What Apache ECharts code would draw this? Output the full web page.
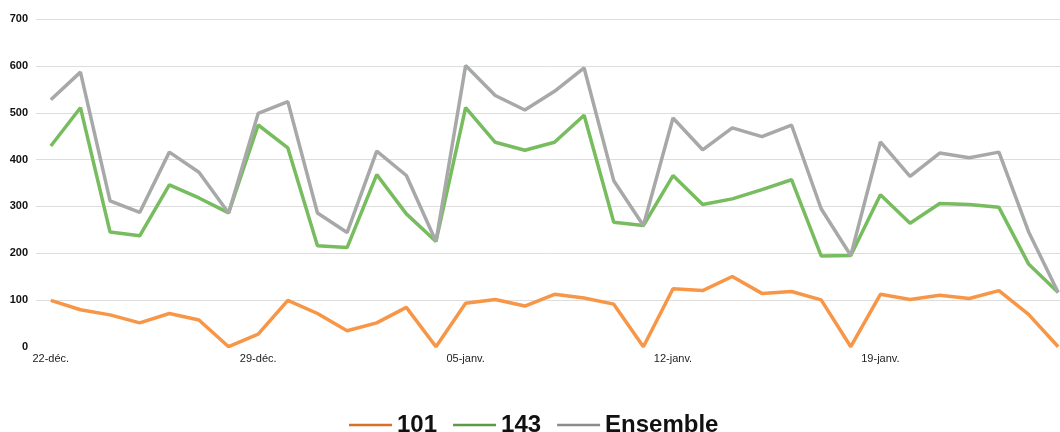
<!DOCTYPE html>
<html>
<head>
<meta charset="utf-8">
<script src="https://cdn.jsdelivr.net/npm/echarts@6/dist/echarts.min.js"></script>
<style>
  html, body { margin: 0; padding: 0; background: #fff; }
  #chart { width: 1060px; height: 432px; }
</style>
</head>
<body>
<div id="chart"></div>
<script>
// jours du 22-déc. au 25-janv.
var jours = [
    '22-déc.', '23-déc.', '24-déc.', '25-déc.', '26-déc.', '27-déc.', '28-déc.',
    '29-déc.', '30-déc.', '31-déc.', '01-janv.', '02-janv.', '03-janv.', '04-janv.',
    '05-janv.', '06-janv.', '07-janv.', '08-janv.', '09-janv.', '10-janv.', '11-janv.',
    '12-janv.', '13-janv.', '14-janv.', '15-janv.', '16-janv.', '17-janv.', '18-janv.',
    '19-janv.', '20-janv.', '21-janv.', '22-janv.', '23-janv.', '24-janv.', '25-janv.'
];
var valeurs101 = [
    99, 79, 68, 51, 71, 57, 0,
    27, 99, 71, 34, 51, 84, 0,
    93, 101, 87, 112, 104, 91, 0,
    124, 120, 150, 114, 118, 100, 0,
    112, 101, 110, 103, 120, 69, 0
];
var valeurs143 = [
    429, 511, 245, 237, 346, 318, 286,
    474, 425, 216, 212, 368, 284, 225,
    511, 437, 420, 437, 495, 266, 259,
    366, 304, 316, 336, 357, 194, 195,
    325, 264, 306, 304, 298, 177, 116
];
var valeursEnsemble = [
    528, 587, 312, 287, 416, 373, 286,
    499, 524, 286, 244, 418, 366, 225,
    601, 537, 506, 546, 596, 355, 259,
    489, 421, 468, 449, 474, 295, 195,
    438, 364, 414, 404, 416, 246, 116
];
var tickY = [0, 100, 200, 300, 400, 500, 600, 700];

// couleur des courbes / couleur (plus foncée) de la légende
var couleursLigne = ['#F79646', '#77BC5E', '#A7A9A9'];
var couleursLegende = ['#D9702A', '#5C9A47', '#8A8C8E'];

var myChart = echarts.init(document.getElementById('chart'));
var option = {
    animation: false,
    grid: {
        left: 36,
        right: -13,
        top: 19.3,
        bottom: 85.3,
        containLabel: false,
        outerBoundsMode: 'none'
    },
    legend: {
        data: ['101', '143', 'Ensemble'],
        icon: 'rect',
        itemWidth: 43,
        itemHeight: 2.5,
        itemGap: 16,
        padding: 0,
        left: 349,
        top: 413,
        textStyle: {
            fontFamily: 'Liberation Sans, Arial, sans-serif',
            fontWeight: 'bold',
            fontSize: 24,
            color: '#111'
        }
    },
    xAxis: {
        type: 'category',
        boundaryGap: true,
        data: jours,
        axisLine: { show: false },
        axisTick: { show: false },
        axisLabel: {
            interval: 6,
            margin: 7,
            fontFamily: 'Liberation Sans, Arial, sans-serif',
            fontSize: 11,
            color: '#222'
        }
    },
    yAxis: {
        type: 'value',
        min: tickY[0],
        max: tickY[tickY.length - 1],
        interval: 100,
        axisLine: { show: false },
        axisTick: { show: false },
        axisLabel: {
            margin: 8,
            fontFamily: 'Liberation Sans, Arial, sans-serif',
            fontWeight: 'bold',
            fontSize: 11,
            color: '#111',
            showMinLabel: true
        },
        splitLine: {
            lineStyle: { color: '#DDDDDD', width: 1 },
            showMinLine: false
        }
    },
    series: [
        {
            name: '101',
            type: 'line',
            data: valeurs101,
            symbol: 'none',
            itemStyle: { color: couleursLegende[0] },
            lineStyle: { width: 3.5, color: couleursLigne[0] }
        },
        {
            name: '143',
            type: 'line',
            data: valeurs143,
            symbol: 'none',
            itemStyle: { color: couleursLegende[1] },
            lineStyle: { width: 3.5, color: couleursLigne[1] }
        },
        {
            name: 'Ensemble',
            type: 'line',
            data: valeursEnsemble,
            symbol: 'none',
            itemStyle: { color: couleursLegende[2] },
            lineStyle: { width: 3.5, color: couleursLigne[2] }
        }
    ]
};
myChart.setOption(option);
</script>
</body>
</html>
